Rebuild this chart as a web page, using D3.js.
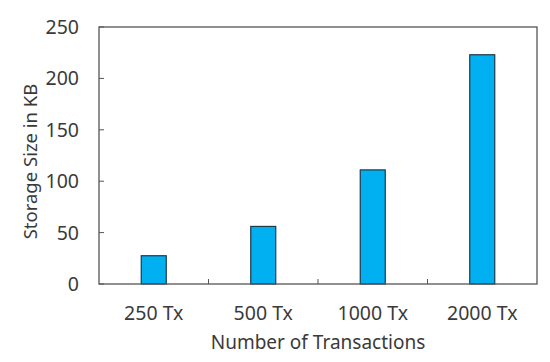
<!DOCTYPE html>
<html>
<head>
  <meta charset="utf-8">
  <script src="https://cdn.jsdelivr.net/npm/d3@7"></script>
  <style>
    body { margin: 0; background: #fff; }
    text { font-family: "Noto Sans", sans-serif; fill: #3a3a3a; }
  </style>
</head>
<body>
<script>
  // values
  var categories = ["250 Tx", "500 Tx", "1000 Tx", "2000 Tx"];
  var storage_kb = [27.5, 56, 111, 223];
  var y_ticks = [0, 50, 100, 150, 200, 250];

  var width = 550, height = 362;
  var margins = { top: 27, right: 13, bottom: 78, left: 99 };
  var inner_w = width - margins.left - margins.right;
  var inner_h = height - margins.top - margins.bottom;

  var svg = d3.select("body").append("svg")
              .attr("width", width)
              .attr("height", height);

  var chart = svg.append("g")
                 .attr("transform", "translate(" + margins.left + "," + margins.top + ")");

  var xScale = d3.scaleBand()
                 .domain(categories)
                 .range([0, inner_w]);

  var yScale = d3.scaleLinear()
                 .domain([0, 250])
                 .range([inner_h, 0]);

  // bars
  var bar_w = 25;
  chart.selectAll(".bar")
       .data(storage_kb)
       .enter()
       .append("rect")
       .classed("bar", true)
       .attr("x", function(d, i){ return xScale(categories[i]) + xScale.bandwidth() / 2 - bar_w / 2; })
       .attr("y", function(d){ return yScale(d); })
       .attr("width", bar_w)
       .attr("height", function(d){ return yScale(0) - yScale(d); })
       .style("fill", "#00b0f0")
       .style("stroke", "#1c3a4a")
       .style("stroke-width", 1.2);

  // frame
  chart.append("rect")
       .attr("x", 0).attr("y", 0)
       .attr("width", inner_w).attr("height", inner_h)
       .style("fill", "none")
       .style("stroke", "#555")
       .style("stroke-width", 1.3);

  // y axis ticks (inside) and labels
  chart.selectAll(".ytick")
       .data(y_ticks)
       .enter()
       .append("line")
       .attr("x1", 0).attr("x2", 5)
       .attr("y1", function(d){ return yScale(d); })
       .attr("y2", function(d){ return yScale(d); })
       .style("stroke", "#555");

  chart.selectAll(".ylabel")
       .data(y_ticks)
       .enter()
       .append("text")
       .attr("x", -20)
       .attr("y", function(d){ return yScale(d); })
       .attr("dy", "0.36em")
       .style("text-anchor", "end")
       .style("font-size", "19.5px")
       .text(function(d){ return d; });

  // x ticks at band boundaries
  chart.selectAll(".xtick")
       .data(categories.slice(1))
       .enter()
       .append("line")
       .attr("x1", function(d){ return xScale(d); })
       .attr("x2", function(d){ return xScale(d); })
       .attr("y1", inner_h).attr("y2", inner_h - 5)
       .style("stroke", "#555");

  chart.selectAll(".xlabel")
       .data(categories)
       .enter()
       .append("text")
       .attr("x", function(d){ return xScale(d) + xScale.bandwidth() / 2; })
       .attr("y", inner_h + 36)
       .style("text-anchor", "middle")
       .style("font-size", "19.5px")
       .text(function(d){ return d; });

  // axis titles
  chart.append("text")
       .attr("x", inner_w / 2)
       .attr("y", inner_h + 65)
       .style("text-anchor", "middle")
       .style("font-size", "19px")
       .text("Number of Transactions");

  chart.append("text")
       .attr("transform", "translate(" + (-62) + "," + (inner_h / 2 + 6) + ") rotate(-90)")
       .style("text-anchor", "middle")
       .style("font-size", "18.5px")
       .text("Storage Size in KB");
</script>
</body>
</html>
